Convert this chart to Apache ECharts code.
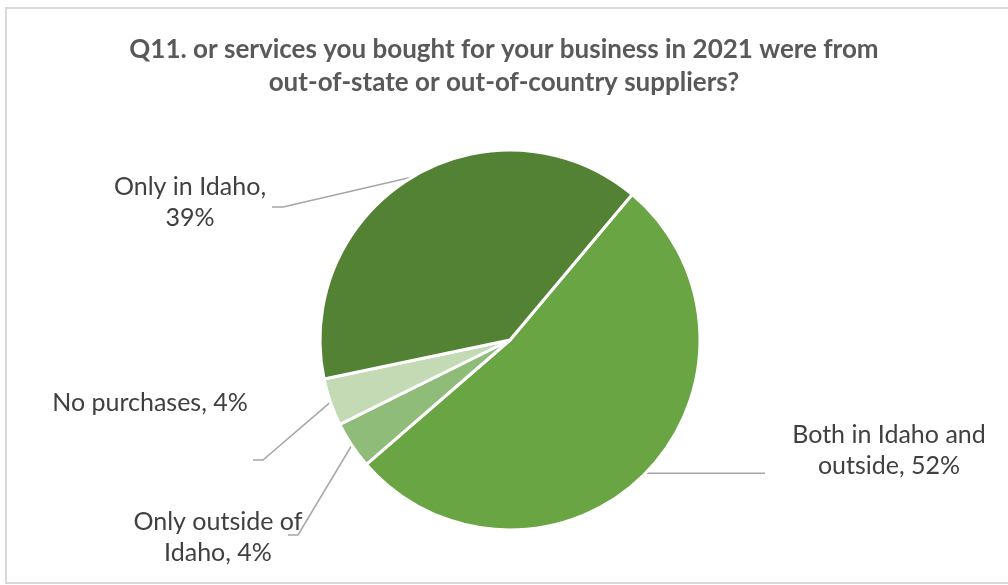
<!DOCTYPE html>
<html>
<head>
<meta charset="utf-8">
<script src="https://cdn.jsdelivr.net/npm/echarts@6/dist/echarts.min.js"></script>
<style>
  html, body { margin: 0; padding: 0; background: #fff; }
  #chart { width: 1008px; height: 585px; }
</style>
</head>
<body>
<div id="chart"></div>
<script>
// Survey answers, in clockwise drawing order
const categories = ['Both in Idaho and outside', 'Only outside of Idaho', 'No purchases', 'Only in Idaho'];
const shares = [52, 4, 4, 39];
const sliceColors = ['#6aa544', '#8fbc78', '#c3dab5', '#548235'];

const titleText = 'Q11. or services you bought for your business in 2021 were from\nout-of-state or out-of-country suppliers?';

// word index after which each label wraps (-1: single line)
const wrapAt = { 'Both in Idaho and outside': 4, 'Only outside of Idaho': 3, 'No purchases': -1, 'Only in Idaho': 3 };

function labelText(p) {
  const words = (p.name + ', ' + p.value + '%').split(' ');
  const k = wrapAt[p.name];
  if (k < 0) return words.join(' ');
  return words.slice(0, k).join(' ') + '\n' + words.slice(k).join(' ');
}

// label anchor (centre) and leader-line elbow/end for each slice
const labelPlace = [
  { x: 889, y: 450, elbow: null, endX: 765 },
  { x: 218, y: 537, elbow: [298, 535], end: [288, 535] },
  { x: 150, y: 403, elbow: [263, 460], end: [253, 460] },
  { x: 190, y: 202, elbow: [283, 207], end: [272, 207] }
];

const chart = echarts.init(document.getElementById('chart'), null, { renderer: 'canvas' });

chart.setOption({
  backgroundColor: '#ffffff',
  animation: false,
  title: {
    text: titleText,
    left: 'center',
    top: 28,
    textStyle: {
      fontFamily: 'Lato',
      fontWeight: 'bold',
      fontSize: 26,
      lineHeight: 33,
      color: '#595959'
    }
  },
  graphic: [{
    type: 'rect',
    shape: { x: 6, y: 8, width: 1020, height: 575 },
    style: { fill: null, stroke: '#d9d9d9', lineWidth: 2 },
    silent: true
  }],
  series: [{
    type: 'pie',
    center: [510, 340],
    radius: [0, 190],
    startAngle: 50,
    clockwise: true,
    avoidLabelOverlap: false,
    itemStyle: { borderColor: '#ffffff', borderWidth: 3 },
    label: {
      show: true,
      position: 'outside',
      formatter: labelText,
      fontFamily: 'Lato',
      fontSize: 25,
      lineHeight: 31,
      color: '#404040',
      align: 'center'
    },
    labelLine: {
      show: true,
      lineStyle: { color: '#a6a6a6', width: 1.5 }
    },
    labelLayout: function (params) {
      const place = labelPlace[params.dataIndex];
      const p0 = params.labelLinePoints ? params.labelLinePoints[0] : [0, 0];
      let pts;
      if (place.elbow) {
        pts = [p0, place.elbow, place.end];
      } else {
        pts = [p0, [(p0[0] + place.endX) / 2, p0[1]], [place.endX, p0[1]]];
      }
      return {
        x: place.x,
        y: place.y,
        align: 'center',
        verticalAlign: 'middle',
        hideOverlap: false,
        labelLinePoints: pts
      };
    },
    data: categories.map((name, i) => ({
      name: name,
      value: shares[i],
      itemStyle: { color: sliceColors[i] }
    }))
  }]
});
</script>
</body>
</html>
